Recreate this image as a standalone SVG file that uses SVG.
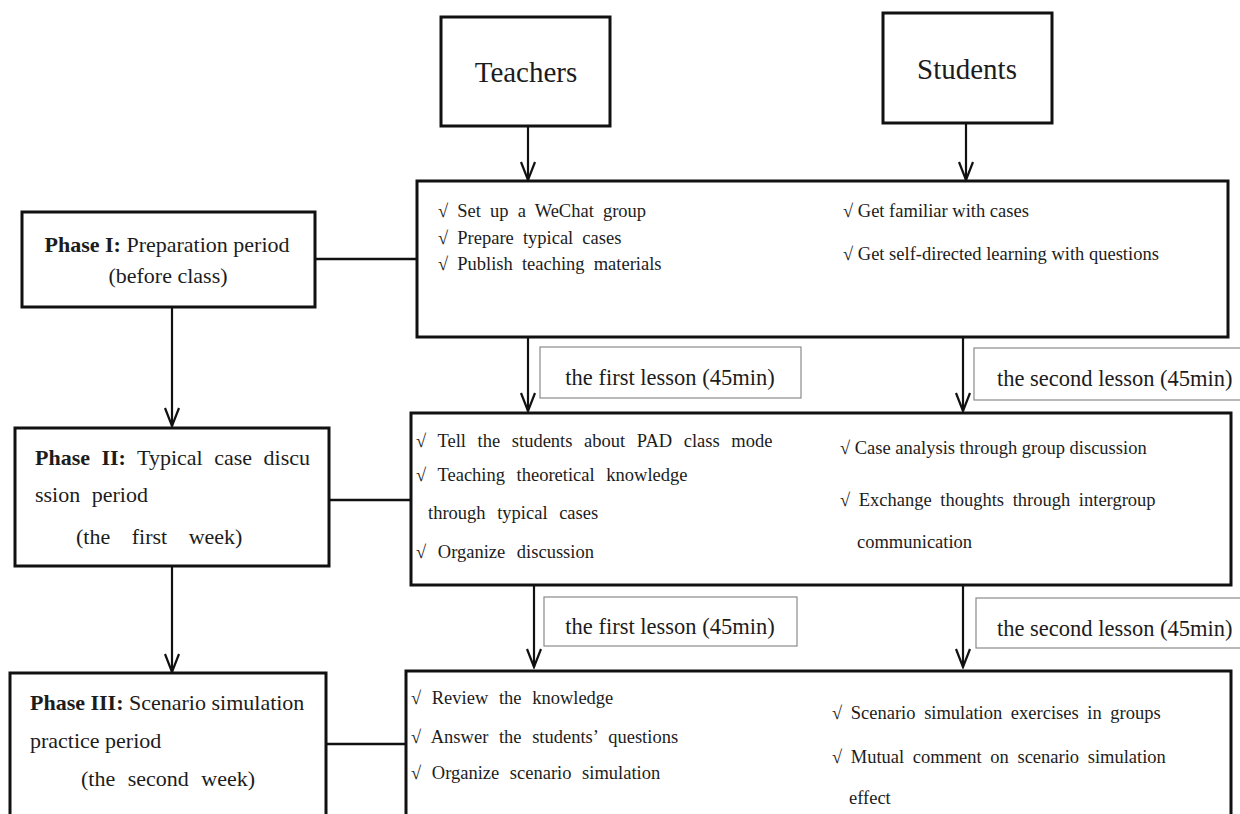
<svg xmlns="http://www.w3.org/2000/svg" width="1240" height="814" viewBox="0 0 1240 814">
<defs>
<style>
text{font-family:"Liberation Serif","Times New Roman",serif;fill:#1c1c1c}
.box{fill:#fff;stroke:#111;stroke-width:3}
.lbl{fill:#fff;stroke:#8a8a8a;stroke-width:1.2}
.big{font-size:29px}
.ph{font-size:22px}
.ct{font-size:18.5px}
.lb{font-size:22.5px}
.b{font-weight:bold}
.ln{stroke:#111;stroke-width:2.5;fill:none}
.ar{stroke:#111;stroke-width:2.2;fill:none}
</style>
<marker id="arr" viewBox="-20 -10 22 20" refX="0" refY="0" markerWidth="22" markerHeight="20" markerUnits="userSpaceOnUse" orient="auto">
<path d="M-18,-7 L0,0 L-18,7" fill="none" stroke="#111" stroke-width="2.2"/>
</marker>
</defs>
<rect width="1240" height="814" fill="#fff"/>

<g id="connectors">
<line class="ar" x1="528" y1="126" x2="528" y2="180" marker-end="url(#arr)"/>
<line class="ar" x1="966" y1="123" x2="966" y2="180" marker-end="url(#arr)"/>
<line class="ln" x1="315" y1="259" x2="417" y2="259"/>
<line class="ar" x1="172" y1="307" x2="172" y2="426" marker-end="url(#arr)"/>
<line class="ar" x1="528" y1="337" x2="528" y2="411" marker-end="url(#arr)"/>
<line class="ar" x1="963" y1="337" x2="963" y2="411" marker-end="url(#arr)"/>
<line class="ln" x1="329" y1="500" x2="411" y2="500"/>
<line class="ar" x1="172" y1="566" x2="172" y2="672" marker-end="url(#arr)"/>
<line class="ar" x1="534" y1="586" x2="534" y2="667" marker-end="url(#arr)"/>
<line class="ar" x1="963" y1="586" x2="963" y2="667" marker-end="url(#arr)"/>
<line class="ln" x1="326" y1="744" x2="406" y2="744"/>
</g>

<g id="teachers">
<rect class="box" x="441" y="17" width="169" height="109"/>
<text class="big" x="526" y="82" text-anchor="middle">Teachers</text>
</g>
<g id="students">
<rect class="box" x="883" y="13" width="169" height="110"/>
<text class="big" x="967" y="79" text-anchor="middle">Students</text>
</g>

<g id="phase1">
<rect class="box" x="22" y="212" width="293" height="95"/>
<text class="ph" x="167" y="252" text-anchor="middle"><tspan class="b">Phase I:</tspan> Preparation period</text>
<text class="ph" x="168" y="283" text-anchor="middle">(before class)</text>
</g>

<g id="content1">
<rect class="box" x="417" y="181" width="811" height="156"/>
<text class="ct" x="438" y="217" word-spacing="4.5">√ Set up a WeChat group</text>
<text class="ct" x="438" y="244" word-spacing="4.5">√ Prepare typical cases</text>
<text class="ct" x="438" y="270" word-spacing="4.5">√ Publish teaching materials</text>
<text class="ct" x="843" y="217">√ Get familiar with cases</text>
<text class="ct" x="843" y="260">√ Get self-directed learning with questions</text>
</g>

<g id="lesson1a">
<rect class="lbl" x="540" y="347" width="261" height="51"/>
<text class="lb" x="670" y="385" text-anchor="middle">the first lesson (45min)</text>
</g>
<g id="lesson2a">
<rect class="lbl" x="974" y="348" width="272" height="52"/>
<text class="lb" x="997" y="386">the second lesson (45min)</text>
</g>

<g id="phase2">
<rect class="box" x="15" y="428" width="314" height="138"/>
<text class="ph" x="35" y="465" word-spacing="6"><tspan class="b">Phase II:</tspan> Typical case discu</text>
<text class="ph" x="35" y="502" word-spacing="6">ssion period</text>
<text class="ph" x="76" y="544" word-spacing="16">(the first week)</text>
</g>

<g id="content2">
<rect class="box" x="411" y="413" width="820" height="172"/>
<text class="ct" x="416" y="447" word-spacing="7">√ Tell the students about PAD class mode</text>
<text class="ct" x="416" y="481" word-spacing="7">√ Teaching theoretical knowledge</text>
<text class="ct" x="428" y="519" word-spacing="7">through typical cases</text>
<text class="ct" x="416" y="558" word-spacing="7">√ Organize discussion</text>
<text class="ct" x="840" y="454">√ Case analysis through group discussion</text>
<text class="ct" x="840" y="506" word-spacing="4">√ Exchange thoughts through intergroup</text>
<text class="ct" x="857" y="548">communication</text>
</g>

<g id="lesson1b">
<rect class="lbl" x="544" y="597" width="253" height="49"/>
<text class="lb" x="670" y="634" text-anchor="middle">the first lesson (45min)</text>
</g>
<g id="lesson2b">
<rect class="lbl" x="976" y="598" width="270" height="50"/>
<text class="lb" x="997" y="636">the second lesson (45min)</text>
</g>

<g id="phase3">
<rect class="box" x="10" y="673" width="316" height="150"/>
<text class="ph" x="30" y="710"><tspan class="b">Phase III:</tspan> Scenario simulation</text>
<text class="ph" x="30" y="748">practice period</text>
<text class="ph" x="81" y="786" word-spacing="7">(the second week)</text>
</g>

<g id="content3">
<rect class="box" x="406" y="671" width="825" height="152"/>
<text class="ct" x="411" y="704" word-spacing="6">√ Review the knowledge</text>
<text class="ct" x="411" y="743" word-spacing="6">√ Answer the students’ questions</text>
<text class="ct" x="411" y="779" word-spacing="6">√ Organize scenario simulation</text>
<text class="ct" x="832" y="719" word-spacing="4">√ Scenario simulation exercises in groups</text>
<text class="ct" x="832" y="763" word-spacing="4">√ Mutual comment on scenario simulation</text>
<text class="ct" x="849" y="804">effect</text>
</g>
</svg>
